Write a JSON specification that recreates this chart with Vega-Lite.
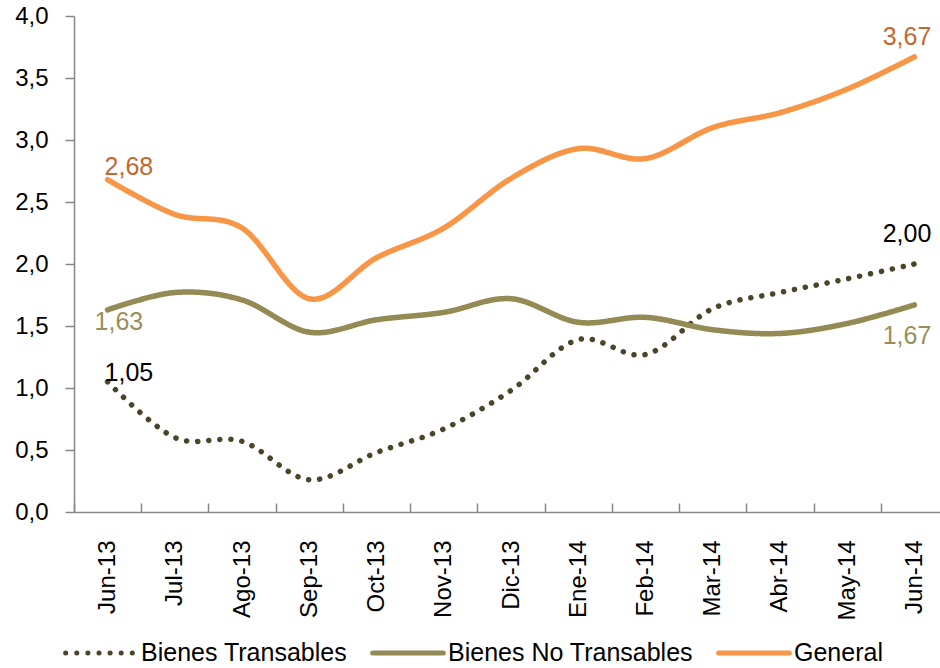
{
  "$schema": "https://vega.github.io/schema/vega-lite/v6.json",
  "autosize": {"type": "none"},
  "padding": {"left": 74, "top": 16, "right": 0, "bottom": 156},
  "width": 866,
  "height": 496,
  "config": {
    "view": {"stroke": null},
    "locale": {"number": {"decimal": ",", "thousands": ".", "grouping": [3], "currency": ["", " €"]}},
    "font": "Liberation Sans"
  },
  "data": {
    "values": [
      {"mes": "Jun-13", "serie": "Bienes Transables", "valor": 1.05},
      {"mes": "Jul-13", "serie": "Bienes Transables", "valor": 0.60},
      {"mes": "Ago-13", "serie": "Bienes Transables", "valor": 0.57},
      {"mes": "Sep-13", "serie": "Bienes Transables", "valor": 0.26},
      {"mes": "Oct-13", "serie": "Bienes Transables", "valor": 0.48},
      {"mes": "Nov-13", "serie": "Bienes Transables", "valor": 0.67},
      {"mes": "Dic-13", "serie": "Bienes Transables", "valor": 0.98},
      {"mes": "Ene-14", "serie": "Bienes Transables", "valor": 1.39},
      {"mes": "Feb-14", "serie": "Bienes Transables", "valor": 1.27},
      {"mes": "Mar-14", "serie": "Bienes Transables", "valor": 1.64},
      {"mes": "Abr-14", "serie": "Bienes Transables", "valor": 1.77},
      {"mes": "May-14", "serie": "Bienes Transables", "valor": 1.88},
      {"mes": "Jun-14", "serie": "Bienes Transables", "valor": 2.00},
      {"mes": "Jun-13", "serie": "Bienes No Transables", "valor": 1.63},
      {"mes": "Jul-13", "serie": "Bienes No Transables", "valor": 1.77},
      {"mes": "Ago-13", "serie": "Bienes No Transables", "valor": 1.71},
      {"mes": "Sep-13", "serie": "Bienes No Transables", "valor": 1.45},
      {"mes": "Oct-13", "serie": "Bienes No Transables", "valor": 1.55},
      {"mes": "Nov-13", "serie": "Bienes No Transables", "valor": 1.61},
      {"mes": "Dic-13", "serie": "Bienes No Transables", "valor": 1.72},
      {"mes": "Ene-14", "serie": "Bienes No Transables", "valor": 1.53},
      {"mes": "Feb-14", "serie": "Bienes No Transables", "valor": 1.57},
      {"mes": "Mar-14", "serie": "Bienes No Transables", "valor": 1.47},
      {"mes": "Abr-14", "serie": "Bienes No Transables", "valor": 1.44},
      {"mes": "May-14", "serie": "Bienes No Transables", "valor": 1.52},
      {"mes": "Jun-14", "serie": "Bienes No Transables", "valor": 1.67},
      {"mes": "Jun-13", "serie": "General", "valor": 2.68},
      {"mes": "Jul-13", "serie": "General", "valor": 2.40},
      {"mes": "Ago-13", "serie": "General", "valor": 2.29},
      {"mes": "Sep-13", "serie": "General", "valor": 1.72},
      {"mes": "Oct-13", "serie": "General", "valor": 2.05},
      {"mes": "Nov-13", "serie": "General", "valor": 2.29},
      {"mes": "Dic-13", "serie": "General", "valor": 2.69},
      {"mes": "Ene-14", "serie": "General", "valor": 2.93},
      {"mes": "Feb-14", "serie": "General", "valor": 2.85},
      {"mes": "Mar-14", "serie": "General", "valor": 3.10},
      {"mes": "Abr-14", "serie": "General", "valor": 3.22},
      {"mes": "May-14", "serie": "General", "valor": 3.41},
      {"mes": "Jun-14", "serie": "General", "valor": 3.67}
    ]
  },
  "encoding": {
    "x": {
      "field": "mes", "type": "ordinal", "sort": null, "bandPosition": 0.5,
      "scale": {"type": "band", "paddingInner": 0, "paddingOuter": 0, "range": [0, 874]},
      "axis": {
        "title": null, "labelAngle": -90, "labelFontSize": 24, "labelColor": "#000000",
        "labelFont": "Liberation Sans", "tickBand": "extent", "tickSize": -9, "labelPadding": 37,
        "domainColor": "#868686", "domainWidth": 1.5, "tickColor": "#868686", "tickWidth": 1.5,
        "grid": false, "labelBound": false, "labelOverlap": false
      }
    },
    "y": {
      "field": "valor", "type": "quantitative",
      "scale": {"domain": [0, 4], "nice": false},
      "axis": {
        "title": null, "values": [0, 0.5, 1, 1.5, 2, 2.5, 3, 3.5, 4], "format": ".1f",
        "labelFontSize": 24, "labelColor": "#000000", "labelFont": "Liberation Sans",
        "tickSize": 9, "labelPadding": 17, "domainColor": "#868686", "domainWidth": 1.5,
        "tickColor": "#868686", "tickWidth": 1.5, "grid": false
      }
    }
  },
  "layer": [
    {
      "mark": {"type": "line", "interpolate": "cardinal", "strokeWidth": 5.5, "strokeCap": "round"},
      "encoding": {
        "color": {
          "field": "serie", "type": "nominal",
          "scale": {"domain": ["Bienes Transables", "Bienes No Transables", "General"], "range": ["#4A452A", "#948A54", "#F79646"]},
          "legend": {
            "title": null, "orient": "none", "direction": "horizontal", "legendX": -11, "legendY": 599,
            "symbolType": "stroke", "symbolSize": 5000, "symbolStrokeWidth": 5,
            "labelFontSize": 25, "labelFont": "Liberation Sans", "labelColor": "#000000",
            "labelOffset": 2, "columnPadding": 14, "padding": 0, "labelBaseline": "middle",
            "labelLimit": 400,
            "encode": {"symbols": {"update": {"strokeCap": {"value": "round"}}}}
          }
        },
        "strokeDash": {
          "field": "serie", "type": "nominal",
          "scale": {"domain": ["Bienes Transables", "Bienes No Transables", "General"], "range": [[0.1, 11], [1, 0], [1, 0]]},
          "legend": null
        }
      }
    },
    {
      "transform": [{"filter": "datum.mes == 'Jun-13' && datum.serie == 'General'"}],
      "mark": {"type": "text", "align": "left", "baseline": "alphabetic", "dx": -3, "dy": -5, "fontSize": 25, "color": "#C3672F"},
      "encoding": {"text": {"field": "valor", "type": "quantitative", "format": ".2f"}}
    },
    {
      "transform": [{"filter": "datum.mes == 'Jun-13' && datum.serie == 'Bienes No Transables'"}],
      "mark": {"type": "text", "align": "left", "baseline": "alphabetic", "dx": -13, "dy": 20, "fontSize": 25, "color": "#9A8F5A"},
      "encoding": {"text": {"field": "valor", "type": "quantitative", "format": ".2f"}}
    },
    {
      "transform": [{"filter": "datum.mes == 'Jun-13' && datum.serie == 'Bienes Transables'"}],
      "mark": {"type": "text", "align": "left", "baseline": "alphabetic", "dx": -3, "dy": -1, "fontSize": 25, "color": "#000000"},
      "encoding": {"text": {"field": "valor", "type": "quantitative", "format": ".2f"}}
    },
    {
      "transform": [{"filter": "datum.mes == 'Jun-14' && datum.serie == 'General'"}],
      "mark": {"type": "text", "align": "right", "baseline": "alphabetic", "dx": 17, "dy": -12, "fontSize": 25, "color": "#C3672F"},
      "encoding": {"text": {"field": "valor", "type": "quantitative", "format": ".2f"}}
    },
    {
      "transform": [{"filter": "datum.mes == 'Jun-14' && datum.serie == 'Bienes Transables'"}],
      "mark": {"type": "text", "align": "right", "baseline": "alphabetic", "dx": 17, "dy": -22, "fontSize": 25, "color": "#000000"},
      "encoding": {"text": {"field": "valor", "type": "quantitative", "format": ".2f"}}
    },
    {
      "transform": [{"filter": "datum.mes == 'Jun-14' && datum.serie == 'Bienes No Transables'"}],
      "mark": {"type": "text", "align": "right", "baseline": "alphabetic", "dx": 17, "dy": 39, "fontSize": 25, "color": "#9A8F5A"},
      "encoding": {"text": {"field": "valor", "type": "quantitative", "format": ".2f"}}
    }
  ]
}
